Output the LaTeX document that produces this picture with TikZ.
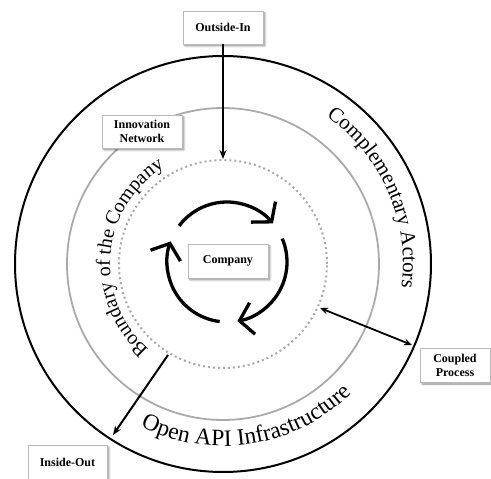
\documentclass[tikz,border=0pt]{standalone}
\usepackage{fontspec}
\setmainfont{Liberation Serif}
\usetikzlibrary{arrows.meta,decorations.text,shadows.blur}

\definecolor{ringgray}{RGB}{170,170,170}
\definecolor{boxline}{RGB}{185,185,185}

\begin{document}
\begin{tikzpicture}[x=1pt,y=1pt,
  labelbox/.style={draw=boxline, line width=0.6pt, fill=white,
    font=\fontsize{12}{14}\selectfont\bfseries, align=center, inner sep=0pt,
    blur shadow={shadow xshift=2pt, shadow yshift=-2pt, shadow blur steps=6, shadow opacity=45}},
  outerring/.style={line width=2pt, black},
  innerring/.style={line width=1.8pt, ringgray},
  dotring/.style={line width=2pt, ringgray, dash pattern=on 2pt off 3pt},
  flow/.style={line width=2pt, -{Stealth[length=9pt,width=7pt]}},
  twoway/.style={line width=1.8pt, {Stealth[length=8pt,width=6.5pt]}-{Stealth[length=8pt,width=6.5pt]}},
  cycle arrow/.style={line width=3.3pt, -{Straight Barb[length=13pt,width=32pt]}},
  ringtext/.style={decorate, decoration={text along path, text align=left, text={#1}}}
]
\useasboundingbox (-223,-215) rectangle (268,264);

% rings around the company
\draw[outerring] (0,0) circle[radius=208];
\draw[innerring] (0,0) circle[radius=156];
\draw[dotring] (0,0) circle[radius=104];

% labels following the rings
\path[ringtext={|\fontsize{21}{21}\selectfont|Complementary Actors}]
  (55:180) arc[start angle=55, end angle=-25, radius=180];
\path[ringtext={|\fontsize{20}{20}\selectfont|Boundary of the Company}]
  (229:113) arc[start angle=229, end angle=100, radius=113];
\path[ringtext={|\fontsize{23.5}{24}\selectfont|Open API Infrastructure}]
  (-117:182) arc[start angle=-117, end angle=-30, radius=182];

% circular process arrows
\begin{scope}[shift={(4,2)}]
  \draw[cycle arrow] (143:60) arc[start angle=143, end angle=40, radius=60];
  \draw[cycle arrow] (23:60) arc[start angle=23, end angle=-80, radius=60];
  \draw[cycle arrow] (-97:60) arc[start angle=-97, end angle=-200, radius=60];
\end{scope}

% boxes
\node[labelbox, minimum width=80pt, minimum height=33pt] (outin) at (0,236.5) {Outside-In};
\node[labelbox, minimum width=80pt, minimum height=33pt] (innov) at (-81,132.5) {Innovation\\Network};
\node[labelbox, minimum width=80pt, minimum height=34pt] (company) at (5,3) {Company};
\node[labelbox, minimum width=70pt, minimum height=34pt] (coupled) at (232,-101) {Coupled\\Process};
\node[labelbox, minimum width=79pt, minimum height=34pt] (insideout) at (-155.5,-198) {Inside-Out};

% arrow end points on the rings
\coordinate (dottop) at (0,105);
\coordinate (iostart) at (-55,-91);
\coordinate (ioend) at (-110,-171);
\coordinate (cpinner) at (97,-44);
\coordinate (cpouter) at (189,-81);

% flows
\draw[flow] (outin.south) -- (dottop);
\draw[flow] (iostart) -- (ioend);
\draw[twoway] (cpinner) -- (cpouter);
\end{tikzpicture}
\end{document}
